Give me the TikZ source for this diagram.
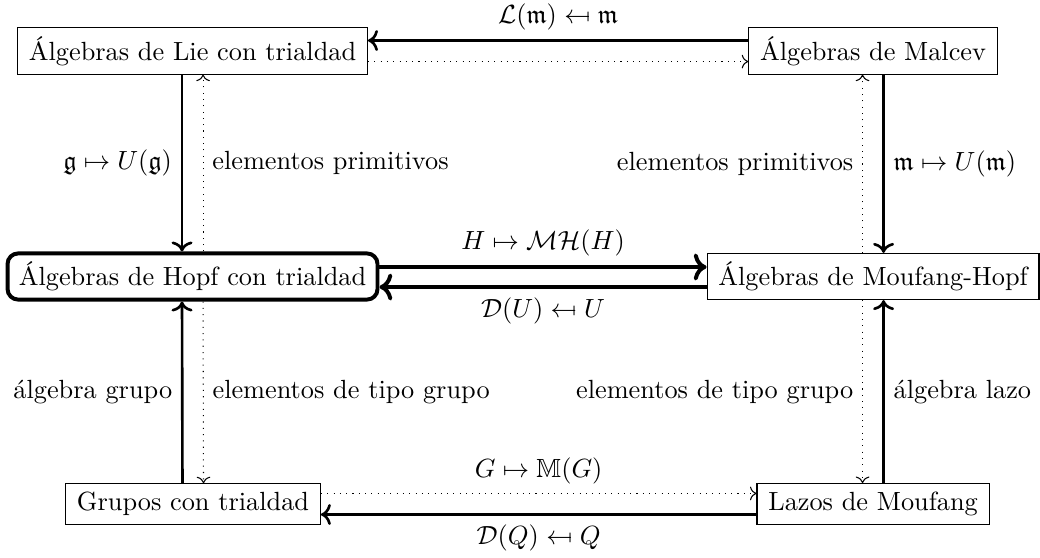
\documentclass[tikz,border=0pt]{standalone}
\usepackage{amsmath,amssymb,stmaryrd}
\usetikzlibrary{positioning,arrows.meta}
\tikzset{
    cat/.style={draw,inner xsep=4.3pt,inner ysep=3.2pt},
    hub/.style={cat,rounded corners=4pt,line width=1.5pt},
    funct/.style={draw,->,line width=1pt},
    strong/.style={draw,->,line width=1.5pt},
    forget/.style={draw,->,dotted,thin},
}
\begin{document}
\begin{tikzpicture}
    \useasboundingbox (0,0) rectangle (13.898,-7.444);
    \node[cat] (lie) at (2.573,-0.682) {Álgebras de Lie con trialdad};
    \node[cat] (mal) at (11.667,-0.682) {Álgebras de Malcev};
    \node[hub] (hopf) at (2.573,-3.695) {Álgebras de Hopf con trialdad};
    \node[cat] (mh) at (11.667,-3.695) {Álgebras de Moufang-Hopf};
    \node[cat] (grp) at (2.579,-6.735) {Grupos con trialdad};
    \node[cat] (laz) at (11.667,-6.735) {Lazos de Moufang};

    % fila de arriba
    \path
    ([yshift=4pt]mal.west) edge[funct] node[above] {$\mathcal{L}(\mathfrak{m})\mapsfrom\mathfrak{m}$} ([yshift=4pt]lie.east)
    ([yshift=-4pt]lie.east) edge[forget] ([yshift=-4pt]mal.west);

    % columnas de arriba
    \path
    ([xshift=-4pt]lie.south) edge[funct] node[left] {$\mathfrak{g}\mapsto U(\mathfrak{g})$} ([xshift=-4pt]hopf.north)
    ([xshift=4pt]hopf.north) edge[forget] node[right] {elementos primitivos} ([xshift=4pt]lie.south)
    ([xshift=4pt]mal.south) edge[funct] node[right] {$\mathfrak{m}\mapsto U(\mathfrak{m})$} ([xshift=4pt]mh.north)
    ([xshift=-4pt]mh.north) edge[forget] node[left] {elementos primitivos} ([xshift=-4pt]mal.south);

    % fila del medio
    \path
    ([yshift=3.6pt]hopf.east) edge[strong] node[above] {$H\mapsto\mathcal{MH}(H)$} ([yshift=3.6pt]mh.west)
    ([yshift=-4pt]mh.west) edge[strong] node[below] {$\mathcal{D}(U)\mapsfrom U$} ([yshift=-4pt]hopf.east);

    % columnas de abajo
    \path
    ([xshift=-4pt]grp.north) edge[funct] node[left] {álgebra grupo} ([xshift=-4pt]hopf.south)
    ([xshift=4pt]hopf.south) edge[forget] node[right] {elementos de tipo grupo} ([xshift=4pt]grp.north)
    ([xshift=4pt]laz.north) edge[funct] node[right] {álgebra lazo} ([xshift=4pt]mh.south)
    ([xshift=-4pt]mh.south) edge[forget] node[left] {elementos de tipo grupo} ([xshift=-4pt]laz.north);

    % fila de abajo
    \path
    ([yshift=4pt]grp.east) edge[forget] node[above] {$G\mapsto\mathbb{M}(G)$} ([yshift=4pt]laz.west)
    ([yshift=-4pt]laz.west) edge[funct] node[below] {$\mathcal{D}(Q)\mapsfrom Q$} ([yshift=-4pt]grp.east);
\end{tikzpicture}
\end{document}
